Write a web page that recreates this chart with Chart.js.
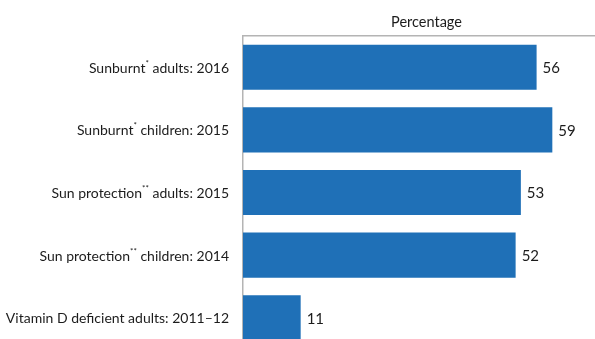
<!DOCTYPE html>
<html>
<head>
<meta charset="utf-8">
<script src="https://cdn.jsdelivr.net/npm/chart.js@4"></script>
<style>
  html, body { margin: 0; padding: 0; background: #fff; overflow: hidden; }
  #wrap { width: 595px; height: 339px; overflow: hidden; }
</style>
</head>
<body>
<div id="wrap"><canvas id="myChart" width="610" height="349"></canvas></div>
<script>
const categories = [
  'Sunburnt* adults: 2016',
  'Sunburnt* children: 2015',
  'Sun protection** adults: 2015',
  'Sun protection** children: 2014',
  'Vitamin D deficient adults: 2011\u201312'
];
const percentages = [56, 59, 53, 52, 11];
const axisTitle = 'Percentage';

const FONT = 'Lato, "Open Sans", sans-serif';
const TEXT = '#1c1c1c';
const BORDER = '#b4b4b4';

// draws the left labels, with the asterisks raised as superscript
const labelsPlugin = {
  id: 'labels',
  afterDatasetsDraw(chart) {
    const ctx = chart.ctx;
    const meta = chart.getDatasetMeta(0);
    ctx.save();
    ctx.fillStyle = TEXT;
    ctx.textBaseline = 'middle';
    meta.data.forEach((bar, i) => {
      // value at the end of the bar
      ctx.font = '15px ' + FONT;
      ctx.textAlign = 'left';
      ctx.fillText(String(percentages[i]), bar.x + 6, bar.y + 1);

      // category label, split into normal and superscript parts
      const parts = categories[i].split(/(\*+)/).filter(p => p.length);
      const sizes = parts.map(p => p[0] === '*' ? '8px ' : '14px ');
      let total = 0;
      const widths = parts.map((p, j) => {
        ctx.font = sizes[j] + FONT;
        const w = ctx.measureText(p).width;
        total += w;
        return w;
      });
      let x = 229 - total;
      ctx.textAlign = 'left';
      parts.forEach((p, j) => {
        ctx.font = sizes[j] + FONT;
        const dy = p[0] === '*' ? -4 : 1;
        ctx.fillText(p, x, bar.y + dy);
        x += widths[j];
      });
    });
    ctx.restore();
  }
};

let myChart;
const setup = () => {
  const ctxt = document.getElementById('myChart').getContext('2d');
  myChart = new Chart(ctxt, {
    type: 'bar',
    data: {
      labels: categories,
      datasets: [{
        data: percentages,
        backgroundColor: '#1f70b7',
        borderWidth: 0,
        categoryPercentage: 1,
        barPercentage: 0.72
      }]
    },
    options: {
      indexAxis: 'y',
      responsive: false,
      animation: false,
      layout: { padding: 0 },
      plugins: {
        legend: { display: false },
        tooltip: { enabled: false }
      },
      scales: {
        x: {
          position: 'top',
          min: 0,
          max: 70,
          grid: { display: false, drawTicks: false },
          border: { display: true, color: BORDER, width: 1.5 },
          ticks: { display: false },
          title: {
            display: true,
            text: axisTitle,
            color: TEXT,
            font: { family: FONT, size: 14.5 },
            padding: { top: 14, bottom: 0 }
          },
          afterFit: s => { s.height = 36; }
        },
        y: {
          grid: { display: false, drawTicks: false },
          border: { display: true, color: BORDER, width: 1.5 },
          ticks: { display: false },
          afterFit: s => { s.width = 243; }
        }
      }
    },
    plugins: [labelsPlugin]
  });
};

window.addEventListener('DOMContentLoaded', setup);
</script>
</body>
</html>
